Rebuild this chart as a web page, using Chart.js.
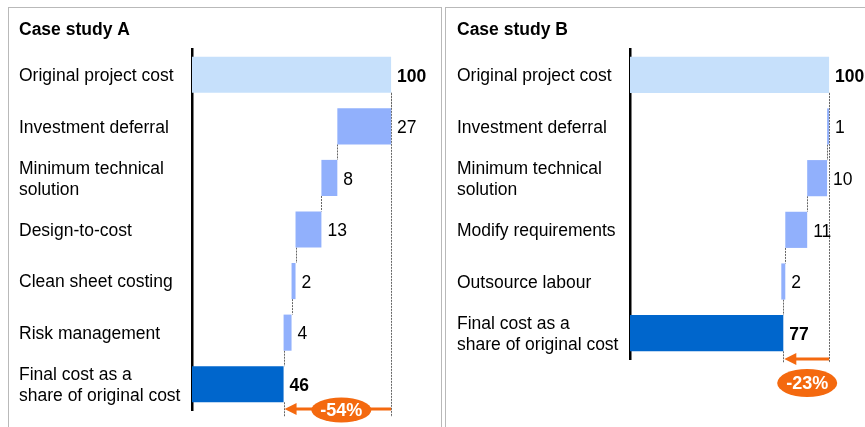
<!DOCTYPE html>
<html>
<head>
<meta charset="utf-8">
<script src="https://cdn.jsdelivr.net/npm/chart.js@4"></script>
<style>
  html, body { margin: 0; padding: 0; overflow: hidden; background: #fff; width: 865px; height: 427px; }
  .panel { position: absolute; top: 7px; height: 440px; border: 1px solid #b9b9b9; box-sizing: border-box; }
  #panelA { left: 8px; width: 434px; }
  #panelB { left: 445px; width: 440px; }
  canvas { position: absolute; top: 0; }
  #chartA { left: 0; }
  #chartB { left: 438px; }
</style>
</head>
<body>
<div class="panel" id="panelA"></div>
<div class="panel" id="panelB"></div>
<canvas id="chartA" width="441" height="427"></canvas>
<canvas id="chartB" width="441" height="427"></canvas>
<script>
const labelsA = ['Original project cost', 'Investment deferral', ['Minimum technical', 'solution'], 'Design-to-cost', 'Clean sheet costing', 'Risk management', ['Final cost as a', 'share of original cost']];
const valuesA = [100, 27, 8, 13, 2, 4, 46];
const changeA = '-54%';

const labelsB = ['Original project cost', 'Investment deferral', ['Minimum technical', 'solution'], 'Modify requirements', 'Outsource labour', ['Final cost as a', 'share of original cost']];
const valuesB = [100, 1, 10, 11, 2, 77];
const changeB = '-23%';

const FONT = '"Liberation Sans", Arial, sans-serif';
const SIZE = 17.5;

// first and last bars start at zero, the steps in between hang from the running level
function waterfall(values) {
  const out = [];
  let level = values[0];
  values.forEach((v, i) => {
    if (i === 0 || i === values.length - 1) {
      out.push([0, v]);
    } else {
      out.push([level - v, level]);
      level -= v;
    }
  });
  return out;
}

function barColors(values) {
  return values.map((v, i) => i === 0 ? '#c6e0fb' : (i === values.length - 1 ? '#0066cc' : '#91b0fc'));
}

const waterfallExtras = {
  id: 'waterfallExtras',
  beforeDatasetsDraw(chart, args, opts) {
    const ctx = chart.ctx;
    const xs = chart.scales.x;
    const bars = chart.getDatasetMeta(0).data;
    const ranges = chart.data.datasets[0].data;
    const n = bars.length;
    const h = bars[0].height / 2;
    const lineEnd = chart.chartArea.bottom + opts.lineDy;
    ctx.save();
    ctx.strokeStyle = '#666';
    ctx.lineWidth = 1;
    ctx.setLineDash([2, 1]);
    ctx.beginPath();
    // connectors between consecutive bars
    for (let i = 1; i < n; i++) {
      const x = Math.round(xs.getPixelForValue(ranges[i][1])) + 0.5;
      ctx.moveTo(x, bars[i - 1].y + h);
      ctx.lineTo(x, bars[i].y - h);
    }
    // reference lines for start and end totals
    const x0 = Math.round(xs.getPixelForValue(ranges[0][1])) + 0.5;
    ctx.moveTo(x0, bars[0].y + h);
    ctx.lineTo(x0, lineEnd);
    const x1 = Math.round(xs.getPixelForValue(ranges[n - 1][1])) + 0.5;
    ctx.moveTo(x1, bars[n - 1].y + h);
    ctx.lineTo(x1, lineEnd);
    ctx.stroke();
    ctx.restore();
  },
  afterDatasetsDraw(chart, args, opts) {
    const ctx = chart.ctx;
    const xs = chart.scales.x;
    const bars = chart.getDatasetMeta(0).data;
    const ranges = chart.data.datasets[0].data;
    const values = opts.values;
    const n = bars.length;
    ctx.save();
    ctx.textBaseline = 'middle';
    ctx.textAlign = 'left';
    ctx.fillStyle = '#000';
    bars.forEach((bar, i) => {
      const bold = i === 0 || i === n - 1;
      ctx.font = (bold ? 'bold ' : '') + SIZE + 'px ' + FONT;
      ctx.fillText(String(values[i]), xs.getPixelForValue(ranges[i][1]) + 6, bar.y + 2);
    });

    // orange arrow from original total to final total
    const xStart = xs.getPixelForValue(ranges[0][1]);
    const xEnd = xs.getPixelForValue(ranges[n - 1][1]);
    const ay = chart.chartArea.bottom + opts.arrowDy;
    ctx.strokeStyle = '#f4690f';
    ctx.fillStyle = '#f4690f';
    ctx.lineWidth = 3;
    ctx.beginPath();
    ctx.moveTo(xStart, ay);
    ctx.lineTo(xEnd + 10, ay);
    ctx.stroke();
    ctx.beginPath();
    ctx.moveTo(xEnd + 1, ay);
    ctx.lineTo(xEnd + 13, ay - 6);
    ctx.lineTo(xEnd + 13, ay + 6);
    ctx.closePath();
    ctx.fill();

    // percentage badge
    const bx = (xStart + xEnd) / 2 + opts.badgeDx;
    const by = chart.chartArea.bottom + opts.badgeDy;
    ctx.beginPath();
    ctx.ellipse(bx, by, 30, opts.badgeRy, 0, 0, Math.PI * 2);
    ctx.fill();
    ctx.fillStyle = '#fff';
    ctx.textAlign = 'center';
    ctx.font = 'bold 18px ' + FONT;
    ctx.fillText(opts.change, bx, by + 1);
    ctx.restore();
  }
};

function makeChart(id, title, labels, values, change, padBottom, extras) {
  return new Chart(document.getElementById(id), {
    type: 'bar',
    data: {
      labels: labels,
      datasets: [{
        data: waterfall(values),
        backgroundColor: barColors(values),
        borderWidth: 0,
        categoryPercentage: 1,
        barPercentage: 0.7
      }]
    },
    options: {
      indexAxis: 'y',
      responsive: false,
      animation: false,
      layout: { padding: { left: 19, right: 30, top: 0, bottom: padBottom } },
      plugins: {
        legend: { display: false },
        tooltip: { enabled: false },
        title: {
          display: true,
          text: title,
          align: 'start',
          color: '#000',
          font: { family: FONT, size: SIZE, weight: 'bold', lineHeight: 1.2 },
          padding: { top: 20, bottom: 8 }
        },
        waterfallExtras: Object.assign({ values: values, change: change }, extras)
      },
      scales: {
        x: { display: false, min: 0, max: 110 },
        y: {
          grid: { display: false, drawTicks: false },
          border: { display: true, color: '#000', width: 2.5 },
          ticks: {
            crossAlign: 'far',
            color: '#000',
            padding: 0,
            labelOffset: 1.5,
            font: { family: FONT, size: SIZE, lineHeight: 1.2 }
          },
          afterFit: function(scale) { scale.width = 173; }
        }
      }
    },
    plugins: [waterfallExtras]
  });
}

makeChart('chartA', 'Case study A', labelsA, valuesA, changeA, 17,
  { arrowDy: -1, lineDy: 7, badgeDx: 4, badgeDy: 0, badgeRy: 12.5 });
makeChart('chartB', 'Case study B', labelsB, valuesB, changeB, 68,
  { arrowDy: 0, lineDy: 4, badgeDx: 1, badgeDy: 24, badgeRy: 14 });
</script>
</body>
</html>
